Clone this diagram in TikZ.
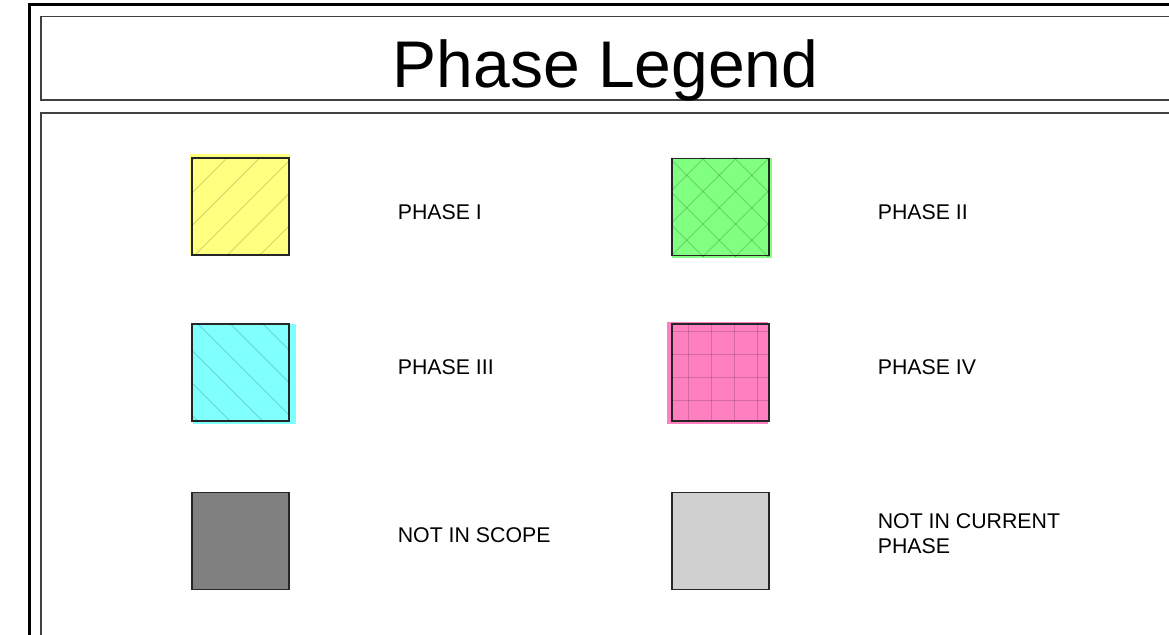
\documentclass[tikz,border=0pt]{standalone}
\usepackage{fontspec}
\setmainfont{Liberation Sans}
\usepackage{xcolor}
\usetikzlibrary{positioning}

\definecolor{phaseone}{HTML}{FFFF80}
\definecolor{phasetwo}{HTML}{80FF80}
\definecolor{phasethree}{HTML}{80FFFF}
\definecolor{phasefour}{HTML}{FF80C0}
\definecolor{noscope}{HTML}{808080}
\definecolor{nocurrent}{HTML}{D0D0D0}

\begin{document}
\begin{tikzpicture}[
  x=1pt, y=-1pt,
  swatch/.style={draw=black!85, line width=1.3pt, minimum size=97pt, inner sep=0pt},
  legendtext/.style={font=\fontsize{21.3}{25.5}\selectfont, inner sep=0pt, align=left},
  hatch/.style={draw=black, draw opacity=0.17, line width=0.8pt},
  panel/.style={draw=black!75, line width=1.2pt},
]
\useasboundingbox (0,0) rectangle (1169,634);
\clip (0,0) rectangle (1169,634);

% Outer frame and panels
\draw[line width=3pt] (29.5,5) rectangle (1220,700);
\draw[panel] (41,16.5) rectangle (1210,100);
\draw[panel] (41,113) rectangle (1210,700);

% Title
\node[font=\fontsize{66}{70}\selectfont, anchor=base, inner sep=0pt] (title) at (605.5,88) {Phase Legend};

% Phase I (diagonal hatch)
\fill[phaseone] (190,154) rectangle (290,255);
\node[swatch] (sw1) at (240.5,206.5) {};
\begin{scope}
  \clip (sw1.south west) rectangle (sw1.north east);
  \foreach \c in {352.5,385,...,545} \draw[hatch] (\c-300,300) -- (\c-100,100);
\end{scope}
\node[legendtext, right=108pt of sw1, yshift=-5.5pt] (lab1) {PHASE I};

% Phase II (cross hatch)
\fill[phasetwo] (672,158) rectangle (772,258);
\node[swatch] (sw2) at (720.5,207) {};
\begin{scope}
  \clip (sw2.south west) rectangle (sw2.north east);
  \foreach \c in {829.5,862,...,1030} \draw[hatch] (\c-300,300) -- (\c-100,100);
  \foreach \c in {414,446.5,...,615} \draw[hatch] (\c+100,100) -- (\c+300,300);
\end{scope}
\node[legendtext, right=108pt of sw2, yshift=-5.5pt] (lab2) {PHASE II};

% Phase III (back hatch)
\fill[phasethree] (193,324) rectangle (296,424);
\node[swatch] (sw3) at (240.5,372.5) {};
\begin{scope}
  \clip (sw3.south west) rectangle (sw3.north east);
  \foreach \c in {-223.5,-191,...,-30} \draw[hatch] (\c+300,300) -- (\c+450,450);
\end{scope}
\node[legendtext, right=108pt of sw3, yshift=5.5pt] (lab3) {PHASE III};

% Phase IV (grid)
\fill[phasefour] (667,322) rectangle (768,424);
\node[swatch] (sw4) at (720.5,372.5) {};
\begin{scope}
  \clip (sw4.south west) rectangle (sw4.north east);
  \foreach \v in {688.3,711.3,734.3,757.3} \draw[hatch, line width=1.2pt] (\v,300) -- (\v,450);
  \foreach \v in {331.7,354.7,377.7,400.7} \draw[hatch, line width=1.2pt] (650,\v) -- (800,\v);
\end{scope}
\node[legendtext, right=108pt of sw4, yshift=5.5pt] (lab4) {PHASE IV};

% Not in scope / not in current phase
\node[swatch, fill=noscope] (sw5) at (240.5,541) {};
\node[legendtext, right=108pt of sw5, yshift=6pt] (lab5) {NOT IN SCOPE};

\node[swatch, fill=nocurrent] (sw6) at (720.5,541) {};
\node[legendtext, right=108pt of sw6, yshift=7.5pt] (lab6) {NOT IN CURRENT\\PHASE};

\end{tikzpicture}
\end{document}
